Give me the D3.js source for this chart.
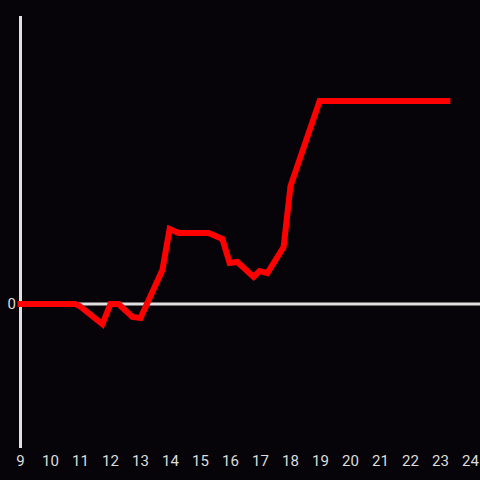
<!DOCTYPE html>
<html>
<head>
<meta charset="utf-8">
<script src="https://cdn.jsdelivr.net/npm/d3@7"></script>
<style>
  body { margin: 0; background: #060408; }
  svg { display: block; }
</style>
</head>
<body>
<script>
// hour of day and value
var hours = [9.0, 10.83, 10.97, 11.73, 12.0, 12.27, 12.73, 13.0, 13.73, 13.97, 14.27,
             15.27, 15.73, 15.97, 16.23, 16.77, 16.97, 17.23, 17.77, 18.0, 18.97, 23.23];
var values = [0, 0, -0.014, -0.14, 0, 0, -0.09, -0.097, 0.236, 0.52, 0.493,
              0.493, 0.451, 0.285, 0.292, 0.188, 0.229, 0.215, 0.396, 0.819, 1.41, 1.41];
var xTicks = d3.range(9, 25);
var yTicks = [0];

var svgWidth = 480;
var svgHeight = 480;

var svg = d3.select("body")
    .append("svg")
    .attr("width", svgWidth)
    .attr("height", svgHeight);

svg.append("rect")
    .attr("width", svgWidth)
    .attr("height", svgHeight)
    .attr("fill", "#060408");

var xScale = d3.scaleLinear()
    .domain([9, 24])
    .range([20.5, 470.5]);
var yScale = d3.scaleLinear()
    .domain([-1, 2])
    .range([448, 16]);

var data = hours.map((h, i) => ({hour: h, value: values[i]}));

// zero line
svg.append("line")
    .attr("x1", xScale(9))
    .attr("x2", svgWidth)
    .attr("y1", yScale(0))
    .attr("y2", yScale(0))
    .attr("stroke", "#e0e0e0")
    .attr("stroke-width", 3);

// y axis
svg.append("line")
    .attr("x1", xScale(9))
    .attr("x2", xScale(9))
    .attr("y1", yScale(2))
    .attr("y2", yScale(-1))
    .attr("stroke", "#e0e0e0")
    .attr("stroke-width", 3);

var line = d3.line()
    .x(d => xScale(d.hour))
    .y(d => yScale(d.value));

svg.append("path")
    .datum(data)
    .attr("d", line)
    .attr("fill", "none")
    .attr("stroke", "#ff0000")
    .attr("stroke-width", 6)
    .attr("stroke-linecap", "square")
    .attr("stroke-linejoin", "miter");

svg.selectAll(".xlabel")
    .data(xTicks)
    .enter()
    .append("text")
    .attr("class", "xlabel")
    .attr("x", d => xScale(d))
    .attr("y", 466)
    .attr("text-anchor", "middle")
    .attr("font-family", "Roboto, sans-serif")
    .attr("font-size", "15px")
    .attr("fill", "#dddddd")
    .text(d => d);

svg.selectAll(".ylabel")
    .data(yTicks)
    .enter()
    .append("text")
    .attr("class", "ylabel")
    .attr("x", 16)
    .attr("y", d => yScale(d))
    .attr("dy", "0.35em")
    .attr("text-anchor", "end")
    .attr("font-family", "Roboto, sans-serif")
    .attr("font-size", "15px")
    .attr("fill", "#dddddd")
    .text(d => d);
</script>
</body>
</html>
